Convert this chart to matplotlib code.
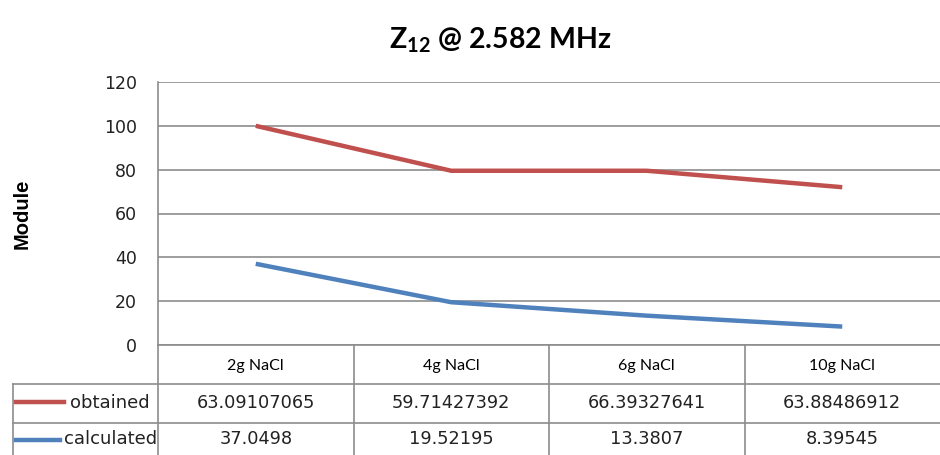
import matplotlib
matplotlib.use("Agg")
import matplotlib.pyplot as plt
from matplotlib.lines import Line2D

# data
categories = ["2g NaCl", "4g NaCl", "6g NaCl", "10g NaCl"]
obtained_line = [100, 79.5, 79.5, 72]
calculated_line = [37.05, 19.52, 13.38, 8.40]
obtained_text = ["63.09107065", "59.71427392", "66.39327641", "63.88486912"]
calculated_text = ["37.0498", "19.52195", "13.3807", "8.39545"]
series_names = ["obtained", "calculated"]
yticks = [0, 20, 40, 60, 80, 100, 120]

RED = "#C0504D"
BLUE = "#4F81BD"
GRID = "#8C8C8C"
W, H = 940, 455

plt.rcParams["mathtext.fontset"] = "custom"
plt.rcParams["mathtext.bf"] = "Lato:bold"
plt.rcParams["mathtext.rm"] = "Lato"


def fx(px):
    return px / W


def fy(py):
    return 1 - py / H


def main():
    fig = plt.figure(figsize=(9.4, 4.55), dpi=100)
    ax = fig.add_axes([fx(158), fy(345), fx(940) - fx(158), fy(82) - fy(345)])

    x = list(range(len(categories)))
    ax.plot(x, obtained_line, color=RED, lw=3.2, solid_capstyle="butt", zorder=3)
    ax.plot(x, calculated_line, color=BLUE, lw=3.2, solid_capstyle="butt", zorder=3)

    ax.set_xlim(-0.5, len(categories) - 0.5)
    ax.set_ylim(0, 120)
    ax.set_yticks(yticks)
    ax.set_yticklabels([str(v) for v in yticks], fontsize=12.5, family="DejaVu Sans", color="#222222")
    ax.tick_params(axis="y", length=0, pad=15)
    ax.set_xticks([])
    ax.grid(axis="y", color=GRID, lw=1.2)
    for s in ["top", "right", "bottom"]:
        ax.spines[s].set_visible(False)
    ax.spines["left"].set_color(GRID)
    ax.spines["left"].set_linewidth(1.2)
    ax.set_ylabel("Module", fontsize=14.5, fontweight="bold", family="Liberation Sans", labelpad=52)

    fig.text(fx(500), fy(40), r"$\mathbf{Z_{12}}$ @ 2.582 MHz", ha="center", va="center",
             fontsize=20.5, fontweight="bold", family="Lato")

    # data table under the axis
    def hline(x0, x1, y):
        fig.add_artist(Line2D([fx(x0), fx(x1)], [fy(y), fy(y)], color=GRID, lw=1.2))

    def vline(xp, y0, y1):
        fig.add_artist(Line2D([fx(xp), fx(xp)], [fy(y0), fy(y1)], color=GRID, lw=1.2))

    hline(158, 940, 345)
    hline(13, 940, 384)
    hline(13, 940, 423)
    vline(13, 384, 455)
    vline(158, 345, 455)

    colw = (940 - 158) / len(categories)
    for i, cat in enumerate(categories):
        cx = 158 + colw * (i + 0.5)
        if i > 0:
            vline(158 + colw * i, 345, 455)
        fig.text(fx(cx), fy(366), cat, ha="center", va="center", fontsize=11.5, family="Lato")
        fig.text(fx(cx), fy(403), obtained_text[i], ha="center", va="center", fontsize=12.8,
                 family="DejaVu Sans", color="#222222")
        fig.text(fx(cx), fy(439), calculated_text[i], ha="center", va="center", fontsize=12.8,
                 family="DejaVu Sans", color="#222222")

    # legend keys in first column
    fig.add_artist(Line2D([fx(16), fx(64)], [fy(402), fy(402)], color=RED, lw=3.2))
    fig.add_artist(Line2D([fx(16), fx(60)], [fy(440), fy(440)], color=BLUE, lw=3.2))
    fig.text(fx(150), fy(403), series_names[0], ha="right", va="center", fontsize=13,
             family="DejaVu Sans", color="#222222")
    fig.text(fx(157), fy(439), series_names[1], ha="right", va="center", fontsize=13,
             family="DejaVu Sans", color="#222222")

    fig.savefig("out.png", dpi=100)


if __name__ == "__main__":
    main()
